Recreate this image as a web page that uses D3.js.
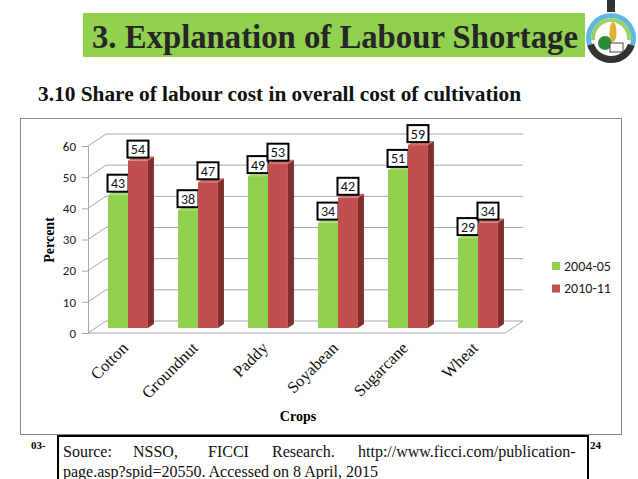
<!DOCTYPE html>
<html>
<head>
<meta charset="utf-8">
<script src="https://cdn.jsdelivr.net/npm/d3@7"></script>
<style>
  body { margin: 0; background: #fff; }
  svg { display: block; }
</style>
</head>
<body>
<script>
// chart data
const crops = ["Cotton", "Groundnut", "Paddy", "Soyabean", "Sugarcane", "Wheat"];
const seriesNames = ["2004-05", "2010-11"];
const share2004 = [43, 38, 49, 34, 51, 29];
const share2010 = [54, 47, 53, 42, 59, 34];
const yTicks = [0, 10, 20, 30, 40, 50, 60];

const colors = {
  "2004-05": { front: "#92d050", top: "#a9dd72", side: "#6f9f3a" },
  "2010-11": { front: "#c0504d", top: "#d06d6a", side: "#7f302e" }
};

const W = 638, H = 479;
const svg = d3.select("body").append("svg")
    .attr("width", W)
    .attr("height", H);

const serif = "'Liberation Serif', 'Times New Roman', serif";
const sans = "Carlito, Calibri, Lato, 'Open Sans', sans-serif";

// slide title
svg.append("rect")
    .attr("x", 83).attr("y", 13)
    .attr("width", 502).attr("height", 44)
    .attr("fill", "#92d050");
svg.append("text")
    .attr("x", 92).attr("y", 48)
    .attr("font-family", serif).attr("font-weight", "bold")
    .attr("font-size", 33).attr("fill", "#262626")
    .attr("textLength", 486).attr("lengthAdjust", "spacingAndGlyphs")
    .text("3. Explanation of Labour Shortage");

// rough logo
const logo = svg.append("g").attr("transform", "translate(611,38)");
logo.append("path")
    .attr("d", d3.arc()({innerRadius: 20, outerRadius: 25, startAngle: -1.9, endAngle: 1.9}))
    .attr("fill", "#5fb8e0");
logo.append("path")
    .attr("d", d3.arc()({innerRadius: 16, outerRadius: 20, startAngle: -1.7, endAngle: 1.7}))
    .attr("fill", "#9ccf6a");
logo.append("path")
    .attr("d", d3.arc()({innerRadius: 18, outerRadius: 25, startAngle: 1.9, endAngle: 4.4}))
    .attr("fill", "#333");
logo.append("circle").attr("cx", -6).attr("cy", 5).attr("r", 7).attr("fill", "#2e8b3a");
logo.append("ellipse").attr("cx", 2).attr("cy", -6).attr("rx", 3.5).attr("ry", 10).attr("fill", "#e0b030");
logo.append("rect").attr("x", -1).attr("y", 5).attr("width", 13).attr("height", 9)
    .attr("fill", "#fff").attr("stroke", "#444").attr("stroke-width", 1);
logo.append("rect").attr("x", -4).attr("y", -38).attr("width", 8).attr("height", 12).attr("fill", "#333");

// subtitle
svg.append("text")
    .attr("x", 38).attr("y", 101)
    .attr("font-family", serif).attr("font-weight", "bold")
    .attr("font-size", 20).attr("fill", "#111")
    .attr("textLength", 483).attr("lengthAdjust", "spacingAndGlyphs")
    .text("3.10 Share of labour cost in overall cost of cultivation");

// chart frame
svg.append("rect")
    .attr("x", 20.5).attr("y", 118.5)
    .attr("width", 601).attr("height", 316)
    .attr("fill", "#fff").attr("stroke", "#858585");

// scales
const x0 = d3.scaleBand().domain(crops).range([93, 513])
    .paddingInner(0.43).paddingOuter(0.215);
const x1 = d3.scaleBand().domain(seriesNames).range([0, x0.bandwidth()]);
const y = d3.scaleLinear().domain([0, 60]).range([333, 146]);   // front axis
const yBar = d3.scaleLinear().domain([0, 60]).range([328, 142]); // bars mid depth

const axisX = 88, wallDx = 18, wallDy = -12, wallRight = 523;
const grid = svg.append("g").attr("stroke", "#a6a6a6").attr("fill", "none");

// back wall gridlines + side wall slants
yTicks.forEach(v => {
  grid.append("line")
      .attr("x1", axisX + wallDx).attr("x2", wallRight)
      .attr("y1", y(v) + wallDy).attr("y2", y(v) + wallDy);
  grid.append("line")
      .attr("x1", axisX).attr("y1", y(v))
      .attr("x2", axisX + wallDx).attr("y2", y(v) + wallDy);
});
// floor
grid.append("path")
    .attr("d", `M${axisX},${y(0)}H${wallRight - wallDx}L${wallRight},${y(0) + wallDy}`);

// front value axis
const yAxis = svg.append("g")
    .attr("transform", `translate(${axisX},0)`)
    .call(d3.axisLeft(y).tickValues(yTicks).tickSize(6).tickPadding(6).tickFormat(d3.format("d")));
yAxis.select(".domain").attr("stroke", "#a6a6a6");
yAxis.selectAll(".tick line").attr("stroke", "#a6a6a6");
yAxis.selectAll("text")
    .attr("font-family", sans).attr("font-size", 13).attr("fill", "#222");

// 3D bars
const depthX = 6, depthY = -4;
const rows = crops.map((c, i) => ({crop: c, values: [
  {series: "2004-05", value: share2004[i]},
  {series: "2010-11", value: share2010[i]}
]}));

const groups = svg.append("g").selectAll("g")
    .data(rows).join("g")
    .attr("transform", d => `translate(${x0(d.crop)},0)`);

const bars = groups.selectAll("g.bar")
    .data(d => d.values).join("g").attr("class", "bar");

bars.each(function(d) {
  const g = d3.select(this);
  const bx = x1(d.series), bw = x1.bandwidth();
  const top = yBar(d.value), base = yBar(0);
  const c = colors[d.series];
  g.append("path")
      .attr("d", `M${bx + bw},${top}L${bx + bw + depthX},${top + depthY}V${base + depthY}L${bx + bw},${base}Z`)
      .attr("fill", c.side);
  g.append("path")
      .attr("d", `M${bx},${top}L${bx + depthX},${top + depthY}H${bx + bw + depthX}L${bx + bw},${top}Z`)
      .attr("fill", c.top);
  g.append("rect")
      .attr("x", bx).attr("y", top)
      .attr("width", bw).attr("height", base - top)
      .attr("fill", c.front);
});

// data labels
bars.each(function(d) {
  const g = d3.select(this);
  const cx = x1(d.series) + x1.bandwidth() / 2;
  const top = yBar(d.value);
  g.append("rect")
      .attr("x", cx - 10.5).attr("y", top - 20)
      .attr("width", 21).attr("height", 17)
      .attr("fill", "#fff").attr("stroke", "#000").attr("stroke-width", 2);
  g.append("text")
      .attr("x", cx).attr("y", top - 6.5)
      .attr("text-anchor", "middle")
      .attr("font-family", sans).attr("font-size", 14).attr("fill", "#111")
      .text(d.value);
});

// category labels
svg.append("g").selectAll("text")
    .data(crops).join("text")
    .attr("transform", d => `translate(${x0(d) + x0.bandwidth() / 2 + 1},${349}) rotate(-45)`)
    .attr("text-anchor", "end")
    .attr("font-family", serif).attr("font-size", 16.5).attr("fill", "#111")
    .text(d => d);

// axis titles
svg.append("text")
    .attr("x", 298).attr("y", 421)
    .attr("text-anchor", "middle")
    .attr("font-family", serif).attr("font-weight", "bold").attr("font-size", 14)
    .text("Crops");
svg.append("text")
    .attr("transform", "translate(54,240) rotate(-90)")
    .attr("text-anchor", "middle")
    .attr("font-family", serif).attr("font-weight", "bold").attr("font-size", 14)
    .text("Percent");

// legend
const legend = svg.append("g").selectAll("g")
    .data(seriesNames).join("g")
    .attr("transform", (d, i) => `translate(552,${262 + i * 22.5})`);
legend.append("rect")
    .attr("width", 8).attr("height", 8)
    .attr("fill", d => colors[d].front);
legend.append("text")
    .attr("x", 12).attr("y", 8.5)
    .attr("font-family", sans).attr("font-size", 14).attr("fill", "#222")
    .text(d => d);

// source box
svg.append("path")
    .attr("d", "M58,479V436H588V479")
    .attr("fill", "none").attr("stroke", "#000").attr("stroke-width", 2);
const sourceWords = [["Source:", 63], ["NSSO,", 133], ["FICCI", 208], ["Research.", 272], ["http://www.ficci.com/publication-", 358]];
svg.append("g").selectAll("text")
    .data(sourceWords).join("text")
    .attr("x", d => d[1]).attr("y", 457)
    .attr("font-family", serif).attr("font-size", 16).attr("fill", "#111")
    .text(d => d[0]);
svg.append("text")
    .attr("x", 63).attr("y", 477)
    .attr("font-family", serif).attr("font-size", 16).attr("fill", "#111")
    .attr("textLength", 315).attr("lengthAdjust", "spacingAndGlyphs")
    .text("page.asp?spid=20550. Accessed on 8 April, 2015");

svg.append("text")
    .attr("x", 31).attr("y", 449)
    .attr("font-family", serif).attr("font-weight", "bold").attr("font-size", 11)
    .text("03-");
svg.append("text")
    .attr("x", 590).attr("y", 449)
    .attr("font-family", serif).attr("font-weight", "bold").attr("font-size", 11)
    .text("24");
</script>
</body>
</html>
